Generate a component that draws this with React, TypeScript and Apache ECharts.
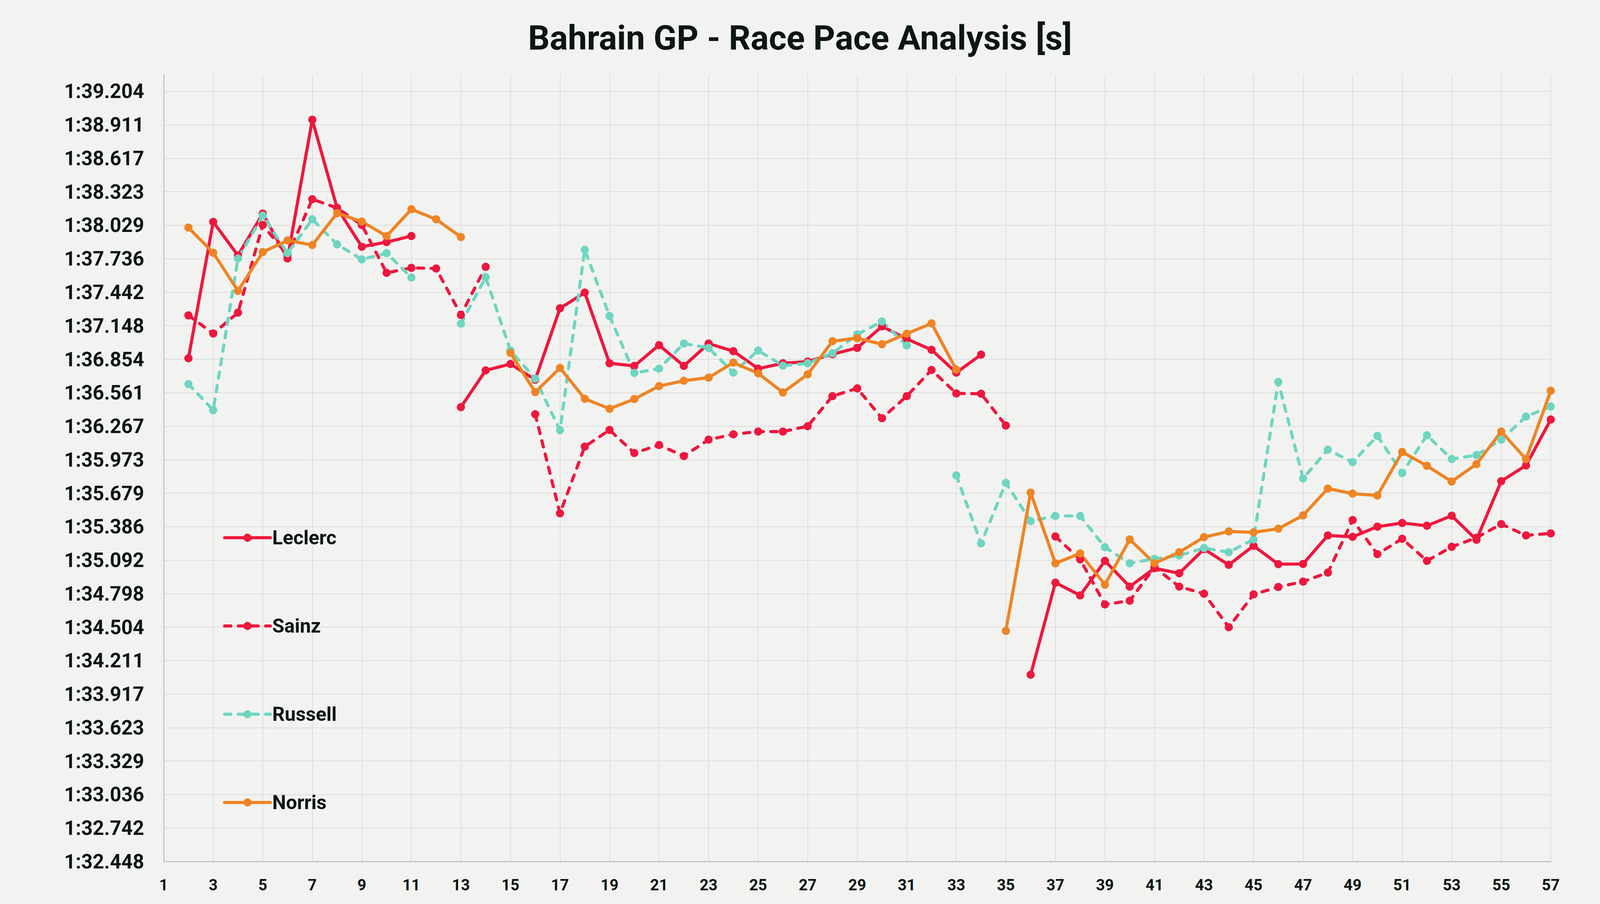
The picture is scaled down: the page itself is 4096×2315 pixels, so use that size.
import React, { useEffect, useRef } from "react";
import * as echarts from "echarts";

const TITLE = "Bahrain GP - Race Pace Analysis [s]";

const LAPS: string[] = Array.from({ length: 57 }, (_, i) => String(i + 1));

const Y_TICK_LABELS: string[] = [
  "1:32.448", "1:32.742", "1:33.036", "1:33.329", "1:33.623", "1:33.917",
  "1:34.211", "1:34.504", "1:34.798", "1:35.092", "1:35.386", "1:35.679",
  "1:35.973", "1:36.267", "1:36.561", "1:36.854", "1:37.148", "1:37.442",
  "1:37.736", "1:38.029", "1:38.323", "1:38.617", "1:38.911", "1:39.204",
];
const Y_MIN = 92.448; // seconds at bottom tick
const Y_STEP = 0.29375; // seconds between ticks

const LECLERC: (number | null)[] = [
  null, 96.863, 98.059, 97.765, 98.132, 97.738, 98.955, 98.182, 97.841, 97.882, 97.935, null,
  96.434, 96.757, 96.813, 96.675, 97.301, 97.439, 96.819, 96.796, 96.978, 96.796, 96.992,
  96.925, 96.772, 96.819, 96.834, 96.898, 96.954, 97.142, 97.033, 96.937, 96.737, 96.895, null,
  94.087, 94.895, 94.783, 95.086, 94.860, 95.021, 94.977, 95.189, 95.051, 95.218, 95.057,
  95.059, 95.309, 95.297, 95.386, 95.418, 95.394, 95.482, 95.271, 95.785, 95.923, 96.326,
];
const SAINZ: (number | null)[] = [
  null, 97.239, 97.080, 97.263, 98.032, 97.765, 98.258, 98.182, 98.032, 97.612, 97.656, 97.650,
  97.242, 97.665, null, 96.372, 95.503, 96.088, 96.234, 96.032, 96.102, 96.005, 96.149, 96.196,
  96.220, 96.220, 96.267, 96.531, 96.599, 96.337, 96.531, 96.760, 96.555, 96.552, 96.273, null,
  95.300, 95.098, 94.704, 94.736, 95.030, 94.860, 94.798, 94.504, 94.792, 94.857, 94.904,
  94.983, 95.444, 95.145, 95.280, 95.086, 95.209, 95.289, 95.409, 95.309, 95.327,
];
const RUSSELL: (number | null)[] = [
  null, 96.637, 96.408, 97.738, 98.114, 97.785, 98.082, 97.862, 97.730, 97.785, 97.571, null,
  97.166, 97.574, 96.931, 96.684, 96.232, 97.815, 97.233, 96.734, 96.772, 96.992, 96.954,
  96.737, 96.931, 96.798, 96.819, 96.907, 97.072, 97.186, 96.975, null, 95.835, 95.239,
  95.770, 95.435, 95.480, 95.480, 95.206, 95.065, 95.104, 95.133, 95.198, 95.162, 95.274,
  96.655, 95.809, 96.061, 95.952, 96.182, 95.856, 96.187, 95.979, 96.014, 96.149, 96.352, 96.440,
];
const NORRIS: (number | null)[] = [
  null, 98.009, 97.788, 97.454, 97.794, 97.897, 97.856, 98.135, 98.062, 97.935, 98.170, 98.082,
  97.926, null, 96.910, 96.566, 96.778, 96.508, 96.420, 96.505, 96.619, 96.666, 96.693, 96.825,
  96.731, 96.563, 96.722, 97.013, 97.039, 96.986, 97.078, 97.169, 96.763, null, 94.472, 95.685,
  95.065, 95.151, 94.877, 95.274, 95.065, 95.162, 95.294, 95.344, 95.336, 95.368, 95.485,
  95.720, 95.676, 95.659, 96.041, 95.920, 95.782, 95.935, 96.220, 95.979, 96.578,
];

const DRIVERS = ["Leclerc", "Sainz", "Russell", "Norris"];
const COLORS = ["#ef173d", "#ef173d", "#6fd5c1", "#ef8424"];
const DASHED = [false, true, true, false];
const SERIES_DATA = [LECLERC, SAINZ, RUSSELL, NORRIS];

const FONT = "Roboto, 'Noto Sans', sans-serif";
const TEXT = "#0d1612";
const LINE_W = 8;

export default function App() {
  const ref = useRef<HTMLDivElement>(null);
  useEffect(() => {
    if (!ref.current) return;
    const chart = echarts.init(ref.current, undefined, { renderer: "svg" });
    const rel = (v: number | null) => (v == null ? null : +(v - Y_MIN).toFixed(4));
    chart.setOption({
      animation: false,
      backgroundColor: "#f2f3f1",
      title: {
        text: TITLE,
        left: "center",
        top: 48,
        textStyle: { fontFamily: FONT, fontSize: 87, fontWeight: "bold", color: TEXT },
      },
      legend: {
        orient: "vertical",
        left: 566,
        top: 1347,
        itemWidth: 117,
        itemHeight: 26,
        itemGap: 176,
        data: DRIVERS,
        lineStyle: { width: LINE_W, cap: "round" },
        textStyle: { fontFamily: FONT, fontSize: 50, fontWeight: "bold", color: TEXT },
      },
      grid: { left: 419, right: 126, top: 191, bottom: 108.5, containLabel: false },
      xAxis: {
        type: "category",
        data: LAPS,
        boundaryGap: false,
        axisLine: { show: true, lineStyle: { color: "#c4c4c4", width: 3 } },
        axisTick: { show: false },
        axisLabel: {
          interval: 1,
          margin: 40,
          fontFamily: FONT,
          fontSize: 40,
          fontWeight: "bold",
          color: TEXT,
        },
        splitLine: { show: true, interval: 1, lineStyle: { color: "#dcdcdc", width: 2 } },
      },
      yAxis: {
        type: "value",
        min: 0,
        max: Y_STEP * 23.5,
        interval: Y_STEP,
        axisLine: { show: true, lineStyle: { color: "#c4c4c4", width: 3 } },
        axisTick: { show: false },
        axisLabel: {
          margin: 50,
          fontFamily: FONT,
          fontSize: 51,
          fontWeight: "bold",
          color: TEXT,
          showMaxLabel: false,
          formatter: (v: number) => {
            const idx = v / Y_STEP;
            const r = Math.round(idx);
            if (Math.abs(idx - r) > 0.01 || r < 0 || r >= Y_TICK_LABELS.length) return "";
            return Y_TICK_LABELS[r];
          },
        },
        splitLine: {
          show: true,
          showMinLine: false,
          showMaxLine: false,
          lineStyle: { color: "#dcdcdc", width: 2 },
        },
      },
      series: DRIVERS.map((name, i) => ({
        name,
        type: "line",
        data: SERIES_DATA[i].map(rel),
        connectNulls: false,
        symbol: "circle",
        symbolSize: 21,
        showSymbol: true,
        itemStyle: { color: COLORS[i] },
        lineStyle: {
          color: COLORS[i],
          width: LINE_W,
          type: DASHED[i] ? [16, 19] : "solid",
          cap: "round",
          join: "round",
        },
        emphasis: { disabled: true },
      })),
    });
    return () => chart.dispose();
  }, []);
  return (
    <div
      ref={ref}
      style={{ position: "fixed", left: 0, top: 0, width: 4096, height: 2315, background: "#f2f3f1" }}
    />
  );
}
